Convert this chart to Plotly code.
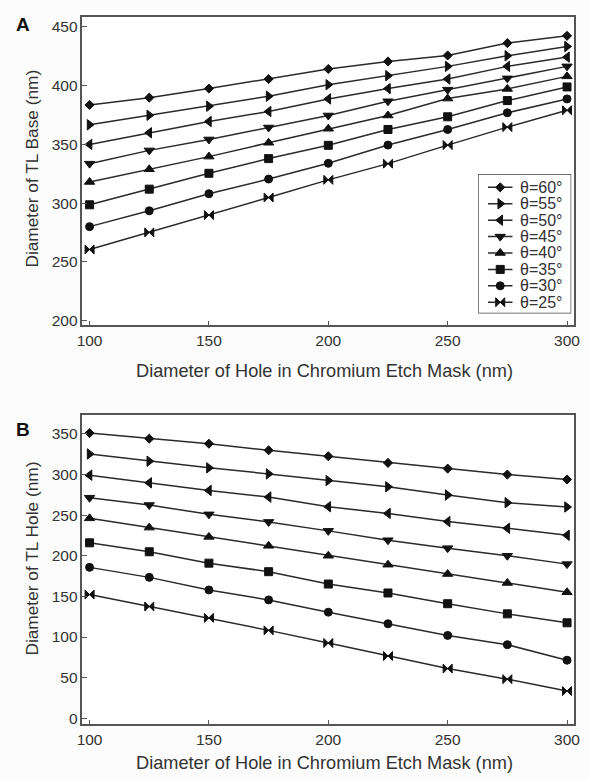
import plotly.graph_objects as go

# Hole diameter in the chromium etch mask (nm)
mask_hole = [100, 125, 150, 175, 200, 225, 250, 275, 300]

angles = [60, 55, 50, 45, 40, 35, 30, 25]
symbols = ["diamond", "triangle-right", "triangle-left", "triangle-down",
           "triangle-up", "square", "circle", "bowtie"]
marker_sizes = [7, 9, 9, 9, 9, 8, 8, 9]

# Diameter of TL base (nm) for each sidewall angle
base_60 = [383.6, 389.8, 397.5, 405.6, 414.2, 420.6, 425.7, 436.2, 442.4]
base_55 = [366.7, 374.8, 382.5, 391.0, 400.8, 408.5, 416.4, 425.4, 433.3]
base_50 = [350.0, 359.9, 369.5, 378.0, 388.7, 397.5, 405.6, 416.4, 424.3]
base_45 = [333.6, 344.9, 354.2, 364.4, 374.6, 386.7, 396.6, 406.2, 416.4]
base_40 = [318.0, 328.8, 339.6, 351.4, 363.3, 374.6, 389.0, 397.2, 407.9]
base_35 = [298.6, 311.9, 325.4, 337.9, 349.2, 362.7, 373.5, 387.3, 398.9]
base_30 = [280.0, 293.5, 308.0, 320.5, 333.9, 349.4, 362.7, 376.9, 388.7]
base_25 = [260.5, 275.1, 289.8, 304.8, 319.8, 333.6, 349.4, 364.7, 379.0]

# Diameter of TL hole (nm) for each sidewall angle
hole_60 = [350.9, 344.0, 337.8, 329.7, 322.4, 314.2, 307.2, 299.9, 293.8]
hole_55 = [325.2, 316.3, 308.1, 300.7, 292.5, 284.8, 274.7, 265.2, 260.0]
hole_50 = [299.1, 289.7, 280.3, 272.2, 260.3, 252.1, 242.0, 233.8, 225.2]
hole_45 = [271.4, 262.4, 250.9, 241.6, 230.6, 219.1, 209.3, 200.0, 189.7]
hole_40 = [246.0, 234.6, 223.2, 212.2, 200.0, 189.0, 177.5, 166.5, 155.1]
hole_35 = [215.9, 204.9, 190.9, 180.4, 165.2, 154.2, 141.0, 128.5, 117.5]
hole_30 = [185.7, 173.4, 157.9, 145.7, 130.6, 116.3, 102.0, 90.6, 71.5]
hole_25 = [152.3, 137.6, 123.6, 108.2, 92.7, 76.7, 61.2, 48.2, 33.5]

base_series = [base_60, base_55, base_50, base_45, base_40, base_35, base_30, base_25]
hole_series = [hole_60, hole_55, hole_50, hole_45, hole_40, hole_35, hole_30, hole_25]

x_ticks = [100, 150, 200, 250, 300]
base_ticks = [200, 250, 300, 350, 400, 450]
hole_ticks = [0, 50, 100, 150, 200, 250, 300, 350]

FONT = "Liberation Sans, Arial, sans-serif"
LINE_COL = "#2a2a2a"
AXIS_COL = "#555555"
TEXT_COL = "#333333"
MARK_COL = "#111111"
W, H = 589, 780


def px_x(p):
    return p / W


def px_y(p):
    return 1 - p / H


fig = go.Figure()

for ang, sym, ms, ys in zip(angles, symbols, marker_sizes, base_series):
    fig.add_trace(go.Scatter(
        x=mask_hole, y=ys, mode="lines+markers", name=f"θ={ang}°",
        line=dict(color=LINE_COL, width=1.5),
        marker=dict(symbol=sym, size=ms, color=MARK_COL, line=dict(color=MARK_COL, width=1)),
        xaxis="x", yaxis="y", showlegend=False))

for ang, sym, ms, ys in zip(angles, symbols, marker_sizes, hole_series):
    fig.add_trace(go.Scatter(
        x=mask_hole, y=ys, mode="lines+markers", name=f"θ={ang}°",
        line=dict(color=LINE_COL, width=1.5),
        marker=dict(symbol=sym, size=ms, color=MARK_COL, line=dict(color=MARK_COL, width=1)),
        xaxis="x2", yaxis="y2", showlegend=False))

# Compact legend drawn on its own overlay axes (pixel units inside the box)
LEG_L, LEG_R, LEG_T, LEG_B = 482, 577, 175, 315
leg_row0, leg_step = 188.3, 16.5
leg_line = (492, 517)
leg_text_x = 523

leg_annotations = []
for i, (ang, sym, ms) in enumerate(zip(angles, symbols, marker_sizes)):
    yy = leg_row0 + i * leg_step
    fig.add_trace(go.Scatter(
        x=[leg_line[0], leg_line[1]], y=[yy, yy], mode="lines",
        line=dict(color=LINE_COL, width=1.5), xaxis="x3", yaxis="y3",
        showlegend=False, hoverinfo="skip"))
    fig.add_trace(go.Scatter(
        x=[(leg_line[0] + leg_line[1]) / 2], y=[yy], mode="markers", name=f"θ={ang}°",
        marker=dict(symbol=sym, size=ms, color=MARK_COL, line=dict(color=MARK_COL, width=1)),
        xaxis="x3", yaxis="y3", showlegend=False))
    leg_annotations.append(dict(
        text=f"θ={ang}°", x=leg_text_x, y=yy, xref="x3", yref="y3",
        xanchor="left", yanchor="middle", showarrow=False,
        font=dict(family=FONT, size=16, color=TEXT_COL)))

axis_common = dict(
    showline=True, linecolor=AXIS_COL, linewidth=1.5, mirror=True,
    ticks="inside", ticklen=5, tickcolor=AXIS_COL, tickwidth=1.2,
    showgrid=False, zeroline=False,
    tickfont=dict(family=FONT, size=15.5, color=TEXT_COL),
)

top_dom = [px_y(327), px_y(17)]
bot_dom = [px_y(728), px_y(417)]
x_dom = [px_x(78), px_x(580)]

fig.update_layout(
    width=W, height=H,
    margin=dict(l=0, r=0, t=0, b=0),
    paper_bgcolor="#fcfcfc", plot_bgcolor="#ffffff",
    font=dict(family=FONT, color=TEXT_COL),
    showlegend=False,
    xaxis=dict(domain=x_dom, anchor="y", range=[97, 303], tickvals=x_ticks, **axis_common),
    yaxis=dict(domain=top_dom, anchor="x", range=[196, 458.5], tickvals=base_ticks, **axis_common),
    xaxis2=dict(domain=x_dom, anchor="y2", range=[97, 303], tickvals=x_ticks, **axis_common),
    yaxis2=dict(domain=bot_dom, anchor="x2", range=[-7.3, 373.3], tickvals=hole_ticks, **axis_common),
    xaxis3=dict(domain=[px_x(LEG_L), px_x(LEG_R)], range=[LEG_L, LEG_R], visible=False,
                anchor="y3", fixedrange=True),
    yaxis3=dict(domain=[px_y(LEG_B), px_y(LEG_T)], range=[LEG_B, LEG_T], visible=False,
                anchor="x3", fixedrange=True),
    shapes=[dict(type="rect", xref="x3", yref="y3", x0=LEG_L, x1=LEG_R, y0=LEG_T, y1=LEG_B,
                 line=dict(color="#444444", width=1.3), fillcolor="#ffffff", layer="below")],
)

annotations = [
    dict(text="<b>A</b>", x=px_x(17), y=px_y(25), font=dict(size=19, color="#111111")),
    dict(text="<b>B</b>", x=px_x(17), y=px_y(432), font=dict(size=19, color="#111111")),
    dict(text="Diameter of Hole in Chromium Etch Mask (nm)", x=px_x(325), y=px_y(373),
         font=dict(size=18.2, color=TEXT_COL)),
    dict(text="Diameter of Hole in Chromium Etch Mask (nm)", x=px_x(325), y=px_y(767),
         font=dict(size=18.2, color=TEXT_COL)),
    dict(text="Diameter of TL Base (nm)", x=px_x(27), y=px_y(169), textangle=-90,
         font=dict(size=17.3, color=TEXT_COL)),
    dict(text="Diameter of TL Hole (nm)", x=px_x(27), y=px_y(561), textangle=-90,
         font=dict(size=17.3, color=TEXT_COL)),
]
for a in annotations:
    a.update(xref="paper", yref="paper", showarrow=False, xanchor="center", yanchor="middle")
    a["font"]["family"] = FONT
fig.update_layout(annotations=annotations + leg_annotations)

fig.write_html("out.html")
